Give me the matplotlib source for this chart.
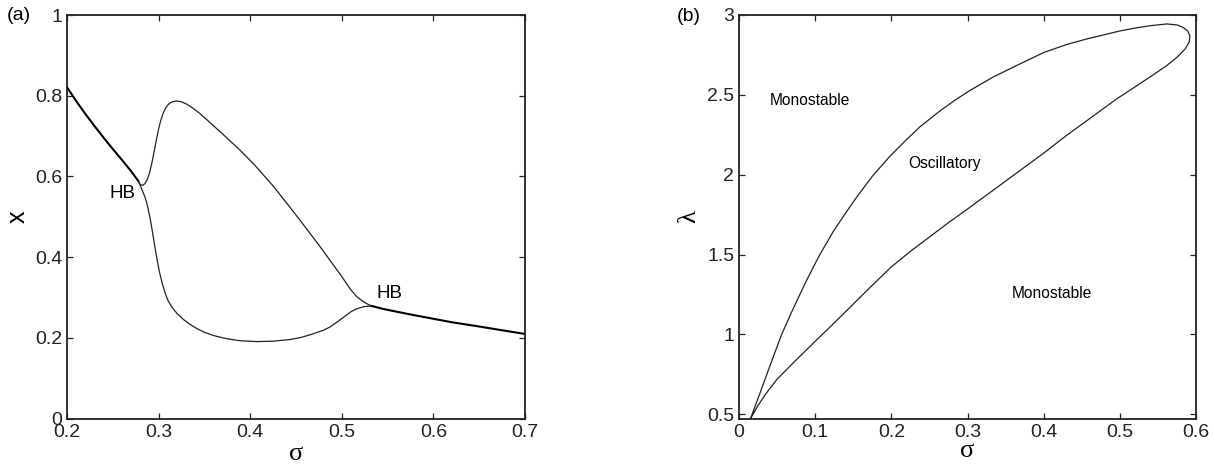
import matplotlib
matplotlib.use("Agg")
import matplotlib.pyplot as plt

# ---------------- data: panel (a) ----------------
stable1_sigma = [0.200, 0.210, 0.220, 0.230, 0.240, 0.250, 0.260, 0.270, 0.2778]
stable1_x = [0.821, 0.787, 0.755, 0.725, 0.696, 0.668, 0.641, 0.613, 0.589]

upper_sigma = [0.2778, 0.2800, 0.2825, 0.2850, 0.2875, 0.2900, 0.2925, 0.2950,
               0.2975, 0.3000, 0.3025, 0.3050, 0.3075, 0.3100, 0.3125, 0.3150,
               0.3197, 0.3250, 0.3300, 0.3370, 0.3450, 0.3525, 0.3700, 0.3890,
               0.4050, 0.4252, 0.4430, 0.4617, 0.4770, 0.4920, 0.5000, 0.5090,
               0.5160, 0.5235, 0.5280, 0.5330]
upper_x = [0.589, 0.580, 0.578, 0.582, 0.592, 0.608, 0.632, 0.660,
           0.690, 0.718, 0.740, 0.757, 0.769, 0.777, 0.782, 0.785,
           0.787, 0.785, 0.780, 0.770, 0.756, 0.741, 0.705, 0.665,
           0.628, 0.576, 0.525, 0.470, 0.424, 0.377, 0.352, 0.322,
           0.303, 0.290, 0.284, 0.279]

lower_sigma = [0.2778, 0.2810, 0.2835, 0.2850, 0.2870, 0.2888, 0.2910, 0.2935,
               0.2960, 0.2985, 0.3010, 0.3040, 0.3070, 0.3100, 0.3140, 0.3200,
               0.3270, 0.3340, 0.3420, 0.3500, 0.3600, 0.3707, 0.3800, 0.3900,
               0.4071, 0.4250, 0.4434, 0.4550, 0.4670, 0.4798, 0.4870, 0.4940,
               0.5000, 0.5053, 0.5100, 0.5150, 0.5200, 0.5250, 0.5330]
lower_x = [0.589, 0.572, 0.558, 0.550, 0.535, 0.517, 0.493, 0.460,
           0.425, 0.392, 0.363, 0.335, 0.312, 0.294, 0.278, 0.261,
           0.246, 0.234, 0.223, 0.214, 0.206, 0.200, 0.196, 0.193,
           0.191, 0.192, 0.196, 0.201, 0.209, 0.219, 0.227, 0.238,
           0.248, 0.257, 0.265, 0.271, 0.275, 0.278, 0.279]

stable2_sigma = [0.533, 0.545, 0.560, 0.580, 0.5965, 0.620, 0.651, 0.675, 0.700]
stable2_x = [0.279, 0.272, 0.265, 0.256, 0.249, 0.239, 0.228, 0.219, 0.210]

a_xticks = [0.2, 0.3, 0.4, 0.5, 0.6, 0.7]
a_xticklabels = ["0.2", "0.3", "0.4", "0.5", "0.6", "0.7"]
a_yticks = [0, 0.2, 0.4, 0.6, 0.8, 1.0]
a_yticklabels = ["0", "0.2", "0.4", "0.6", "0.8", "1"]

# ---------------- data: panel (b) ----------------
# lower branch from the cusp to the tip, then upper branch back to the cusp
b_sigma = [0.0153, 0.025, 0.035, 0.050, 0.075, 0.100, 0.125, 0.150, 0.175,
           0.200, 0.225, 0.250, 0.275, 0.300, 0.350, 0.400, 0.430, 0.460,
           0.4959, 0.520, 0.5437, 0.5615, 0.575, 0.5857, 0.591, 0.592,
           0.589, 0.583, 0.575, 0.5615, 0.540, 0.522, 0.500, 0.474,
           0.4565, 0.430, 0.400, 0.369, 0.335, 0.303, 0.283, 0.264,
           0.2376, 0.220, 0.198, 0.175, 0.1545, 0.140, 0.1238, 0.105,
           0.0889, 0.070, 0.056, 0.045, 0.035, 0.025, 0.0153]
b_lambda = [0.475, 0.555, 0.627, 0.720, 0.840, 0.957, 1.072, 1.190, 1.308,
            1.423, 1.520, 1.610, 1.700, 1.785, 1.960, 2.135, 2.246, 2.350,
            2.475, 2.550, 2.625, 2.683, 2.735, 2.7875, 2.830, 2.870,
            2.900, 2.9225, 2.938, 2.944, 2.933, 2.920, 2.900, 2.870,
            2.850, 2.815, 2.765, 2.694, 2.615, 2.527, 2.465, 2.400,
            2.300, 2.220, 2.115, 1.990, 1.860, 1.760, 1.645, 1.490,
            1.340, 1.150, 1.000, 0.860, 0.730, 0.600, 0.475]

b_xticks = [0, 0.1, 0.2, 0.3, 0.4, 0.5, 0.6]
b_xticklabels = ["0", "0.1", "0.2", "0.3", "0.4", "0.5", "0.6"]
b_yticks = [0.5, 1.0, 1.5, 2.0, 2.5, 3.0]
b_yticklabels = ["0.5", "1", "1.5", "2", "2.5", "3"]

# ---------------- figure ----------------
plt.rcParams['font.family'] = ['Liberation Sans', 'DejaVu Sans']
W, H = 1214, 467
fig = plt.figure(figsize=(W / 100, H / 100), dpi=100)

def px_axes(l, t, r, b):
    return [l / W, 1 - b / H, (r - l) / W, (b - t) / H]

ax1 = fig.add_axes(px_axes(67, 15, 525, 418.7))
ax2 = fig.add_axes(px_axes(739, 15, 1196, 418.7))

tick_fs = 14
label_font = dict(family=['Liberation Serif', 'DejaVu Serif'], fontsize=19)

for ax in (ax1, ax2):
    for s in ax.spines.values():
        s.set_linewidth(1.3)
        s.set_color('#222222')
    ax.tick_params(direction='in', top=True, right=True, length=4.5, width=0.9,
                   labelsize=tick_fs, pad=3.5, colors='#222222')

# panel (a)
ax1.plot(stable1_sigma, stable1_x, color='black', lw=1.5)
ax1.plot(upper_sigma, upper_x, color='#222222', lw=0.9)
ax1.plot(lower_sigma, lower_x, color='#222222', lw=0.9)
ax1.plot(stable2_sigma, stable2_x, color='black', lw=1.5)
ax1.set_xlim(0.2, 0.7)
ax1.set_ylim(0, 1)
ax1.set_xticks(a_xticks)
ax1.set_xticklabels(a_xticklabels)
ax1.set_yticks(a_yticks)
ax1.set_yticklabels(a_yticklabels)
ax1.text(0.2469, 0.558, 'HB', fontsize=13.5, ha='left', va='center')
ax1.text(0.538, 0.310, 'HB', fontsize=13.5, ha='left', va='center')
ax1.set_xlabel('σ', labelpad=2, **label_font)
ax1.set_ylabel('x', fontsize=18, labelpad=4, rotation=90)

# panel (b)
ax2.plot(b_sigma, b_lambda, color='#222222', lw=0.9)
ax2.set_xlim(0, 0.6)
ax2.set_ylim(0.4725, 3)
ax2.set_xticks(b_xticks)
ax2.set_xticklabels(b_xticklabels)
ax2.set_yticks(b_yticks)
ax2.set_yticklabels(b_yticklabels)
ax2.text(0.0407, 2.464, 'Monostable', fontsize=11.2, ha='left', va='center')
ax2.text(0.2223, 2.069, 'Oscillatory', fontsize=11.2, ha='left', va='center')
ax2.text(0.358, 1.256, 'Monostable', fontsize=11.2, ha='left', va='center')
ax2.set_xlabel('σ', labelpad=-0.5, **label_font)
ax2.set_ylabel('λ', labelpad=5, **label_font)

fig.text(7 / W, 1 - 16 / H, '(a)', fontsize=14, ha='left', va='center')
fig.text(677 / W, 1 - 16.7 / H, '(b)', fontsize=14, ha='left', va='center')

fig.savefig('out.png', dpi=100)
